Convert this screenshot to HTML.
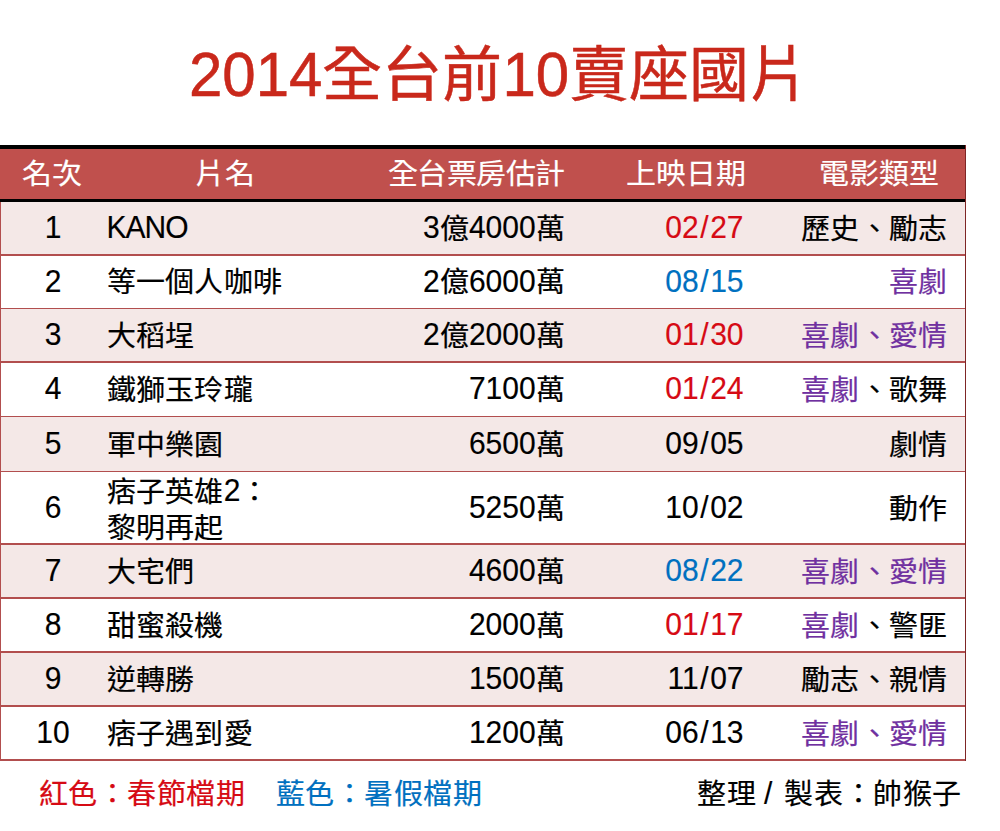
<!DOCTYPE html>
<html lang="zh-TW"><head><meta charset="utf-8"><title>2014全台前10賣座國片</title>
<style>
html,body{margin:0;padding:0;background:#fff;}
body{width:1000px;height:831px;position:relative;overflow:hidden;font-family:"Liberation Sans",sans-serif;color:#000;}
.a{position:absolute;white-space:nowrap;font-size:29px;line-height:40px;}
.r{position:absolute;left:0;width:966px;}
.n{font-style:normal;display:inline-block;-webkit-text-stroke:0.15px currentColor;font-size:30px;transform:scaleY(1.07);transform-origin:0 30.4px;}
.c{font-weight:normal;display:inline-block;-webkit-text-stroke:0.2px currentColor;white-space:pre;letter-spacing:0.3px;position:relative;top:0.7px;transform:scaleY(0.97);transform-origin:0 19px;}
.sl{margin:0 1.6px;}
.h{color:#fff;font-size:30px;}
.ft{font-size:29px;}
.ft .c{letter-spacing:0.6px;}
.h .c{transform:scaleY(0.95);letter-spacing:0;}
.tt{position:absolute;white-space:nowrap;font-size:60px;line-height:80px;color:#C9281B;-webkit-text-stroke:0.5px currentColor;}
.tt .n{font-size:60px;-webkit-text-stroke:0.5px currentColor;transform-origin:0 60.8px;transform:scaleY(1.045);}
.tt .c{transform:none;letter-spacing:0;top:0;-webkit-text-stroke:0.5px currentColor;}
</style></head><body>

<div class="tt" style="left:189px;top:36px;"><i class="n">2014</i><b class="c">全台前</b><i class="n">10</i><b class="c">賣座國片</b></div>
<div class="r" style="top:144.5px;height:4.1px;background:#000;"></div>
<div class="r" style="top:148.6px;height:50px;background:#C0504D;"></div>
<div class="r" style="top:198.6px;height:3.4px;background:#000;"></div>
<div class="r" style="top:202px;height:52.8px;background:#F4E8E7;"></div>
<div class="r" style="top:254.8px;height:53.8px;background:#fff;"></div>
<div class="r" style="top:308.6px;height:53.7px;background:#F4E8E7;"></div>
<div class="r" style="top:362.3px;height:54.3px;background:#fff;"></div>
<div class="r" style="top:416.6px;height:54.9px;background:#F4E8E7;"></div>
<div class="r" style="top:471.5px;height:72.8px;background:#fff;"></div>
<div class="r" style="top:544.3px;height:53.9px;background:#F4E8E7;"></div>
<div class="r" style="top:598.2px;height:54.0px;background:#fff;"></div>
<div class="r" style="top:652.2px;height:54.1px;background:#F4E8E7;"></div>
<div class="r" style="top:706.3px;height:53.7px;background:#fff;"></div>
<div class="r" style="top:253.8px;height:1.9px;background:#B24E4E;"></div>
<div class="r" style="top:307.6px;height:1.9px;background:#B24E4E;"></div>
<div class="r" style="top:361.3px;height:1.9px;background:#B24E4E;"></div>
<div class="r" style="top:415.6px;height:1.9px;background:#B24E4E;"></div>
<div class="r" style="top:470.5px;height:1.9px;background:#B24E4E;"></div>
<div class="r" style="top:543.3px;height:1.9px;background:#B24E4E;"></div>
<div class="r" style="top:597.2px;height:1.9px;background:#B24E4E;"></div>
<div class="r" style="top:651.2px;height:1.9px;background:#B24E4E;"></div>
<div class="r" style="top:705.3px;height:1.9px;background:#B24E4E;"></div>
<div class="r" style="top:759px;height:1.9px;background:#B24E4E;"></div>
<div style="position:absolute;left:0;top:202px;width:1.4px;height:559px;background:#B24E4E;"></div>
<div style="position:absolute;left:964.6px;top:144.5px;width:1.4px;height:616.5px;background:#7E2626;"></div>
<div class="a h" style="left:22px;top:154.1px"><b class="c">名次</b></div>
<div class="a h" style="left:194.5px;top:154.1px"><b class="c">片名</b></div>
<div class="a h" style="right:435.5px;top:154.1px"><b class="c" style="letter-spacing:-0.55px">全台票房估計</b></div>
<div class="a h" style="right:254.5px;top:154.1px"><b class="c">上映日期</b></div>
<div class="a h" style="right:61px;top:154.1px"><b class="c">電影類型</b></div>
<div class="a" style="left:0;width:106px;text-align:center;top:208.4px"><i class="n">1</i></div>
<div class="a" style="left:106.5px;top:208.4px"><i class="n" style="letter-spacing:-1px">KANO</i></div>
<div class="a" style="right:435px;top:208.4px"><i class="n">3</i><b class="c">億</b><i class="n">4000</i><b class="c">萬</b></div>
<div class="a" style="right:256.5px;top:208.4px"><span style="color:#D60A14"><i class="n">02<span class="sl">/</span>27</i></span></div>
<div class="a" style="right:52.5px;top:208.4px"><b class="c">歷史、勵志</b></div>
<div class="a" style="left:0;width:106px;text-align:center;top:261.7px"><i class="n">2</i></div>
<div class="a" style="left:106.5px;top:261.7px"><b class="c">等一個人咖啡</b></div>
<div class="a" style="right:435px;top:261.7px"><i class="n">2</i><b class="c">億</b><i class="n">6000</i><b class="c">萬</b></div>
<div class="a" style="right:256.5px;top:261.7px"><span style="color:#0070C0"><i class="n">08<span class="sl">/</span>15</i></span></div>
<div class="a" style="right:52.5px;top:261.7px"><span style="color:#7030A0"><b class="c">喜劇</b></span></div>
<div class="a" style="left:0;width:106px;text-align:center;top:315.45px"><i class="n">3</i></div>
<div class="a" style="left:106.5px;top:315.45px"><b class="c">大稻埕</b></div>
<div class="a" style="right:435px;top:315.45px"><i class="n">2</i><b class="c">億</b><i class="n">2000</i><b class="c">萬</b></div>
<div class="a" style="right:256.5px;top:315.45px"><span style="color:#D60A14"><i class="n">01<span class="sl">/</span>30</i></span></div>
<div class="a" style="right:52.5px;top:315.45px"><span style="color:#7030A0"><b class="c">喜劇、愛情</b></span></div>
<div class="a" style="left:0;width:106px;text-align:center;top:369.45px"><i class="n">4</i></div>
<div class="a" style="left:106.5px;top:369.45px"><b class="c">鐵獅玉玲瓏</b></div>
<div class="a" style="right:435px;top:369.45px"><i class="n">7100</i><b class="c">萬</b></div>
<div class="a" style="right:256.5px;top:369.45px"><span style="color:#D60A14"><i class="n">01<span class="sl">/</span>24</i></span></div>
<div class="a" style="right:52.5px;top:369.45px"><span style="color:#7030A0"><b class="c">喜劇</b></span><b class="c">、歌舞</b></div>
<div class="a" style="left:0;width:106px;text-align:center;top:424.05px"><i class="n">5</i></div>
<div class="a" style="left:106.5px;top:424.05px"><b class="c">軍中樂園</b></div>
<div class="a" style="right:435px;top:424.05px"><i class="n">6500</i><b class="c">萬</b></div>
<div class="a" style="right:256.5px;top:424.05px"><i class="n">09<span class="sl">/</span>05</i></div>
<div class="a" style="right:52.5px;top:424.05px"><b class="c">劇情</b></div>
<div class="a" style="left:0;width:106px;text-align:center;top:487.9px"><i class="n">6</i></div>
<div class="a" style="left:106.5px;top:473.4px;line-height:36px"><b class="c">痞子英雄</b><i class="n">2</i><b class="c">：</b><br><b class="c">黎明再起</b></div>
<div class="a" style="right:435px;top:487.9px"><i class="n">5250</i><b class="c">萬</b></div>
<div class="a" style="right:256.5px;top:487.9px"><i class="n">10<span class="sl">/</span>02</i></div>
<div class="a" style="right:52.5px;top:487.9px"><b class="c">動作</b></div>
<div class="a" style="left:0;width:106px;text-align:center;top:551.25px"><i class="n">7</i></div>
<div class="a" style="left:106.5px;top:551.25px"><b class="c">大宅們</b></div>
<div class="a" style="right:435px;top:551.25px"><i class="n">4600</i><b class="c">萬</b></div>
<div class="a" style="right:256.5px;top:551.25px"><span style="color:#0070C0"><i class="n">08<span class="sl">/</span>22</i></span></div>
<div class="a" style="right:52.5px;top:551.25px"><span style="color:#7030A0"><b class="c">喜劇、愛情</b></span></div>
<div class="a" style="left:0;width:106px;text-align:center;top:605.2px"><i class="n">8</i></div>
<div class="a" style="left:106.5px;top:605.2px"><b class="c">甜蜜殺機</b></div>
<div class="a" style="right:435px;top:605.2px"><i class="n">2000</i><b class="c">萬</b></div>
<div class="a" style="right:256.5px;top:605.2px"><span style="color:#D60A14"><i class="n">01<span class="sl">/</span>17</i></span></div>
<div class="a" style="right:52.5px;top:605.2px"><span style="color:#7030A0"><b class="c">喜劇</b></span><b class="c">、警匪</b></div>
<div class="a" style="left:0;width:106px;text-align:center;top:659.25px"><i class="n">9</i></div>
<div class="a" style="left:106.5px;top:659.25px"><b class="c">逆轉勝</b></div>
<div class="a" style="right:435px;top:659.25px"><i class="n">1500</i><b class="c">萬</b></div>
<div class="a" style="right:256.5px;top:659.25px"><i class="n">11<span class="sl">/</span>07</i></div>
<div class="a" style="right:52.5px;top:659.25px"><b class="c">勵志、親情</b></div>
<div class="a" style="left:0;width:106px;text-align:center;top:713.15px"><i class="n">10</i></div>
<div class="a" style="left:106.5px;top:713.15px"><b class="c">痞子遇到愛</b></div>
<div class="a" style="right:435px;top:713.15px"><i class="n">1200</i><b class="c">萬</b></div>
<div class="a" style="right:256.5px;top:713.15px"><i class="n">06<span class="sl">/</span>13</i></div>
<div class="a" style="right:52.5px;top:713.15px"><span style="color:#7030A0"><b class="c">喜劇、愛情</b></span></div>
<div class="a ft" style="left:38.5px;top:773.6px;color:#D60A14"><b class="c">紅色：春節檔期</b></div>
<div class="a ft" style="left:275.5px;top:773.6px;color:#0070C0"><b class="c">藍色：暑假檔期</b></div>
<div class="a ft" style="right:38px;top:773.6px"><b class="c">整理</b><i class="n" style="margin:0 12px 0 7.5px">/</i><b class="c">製表：帥猴子</b></div>
</body></html>
